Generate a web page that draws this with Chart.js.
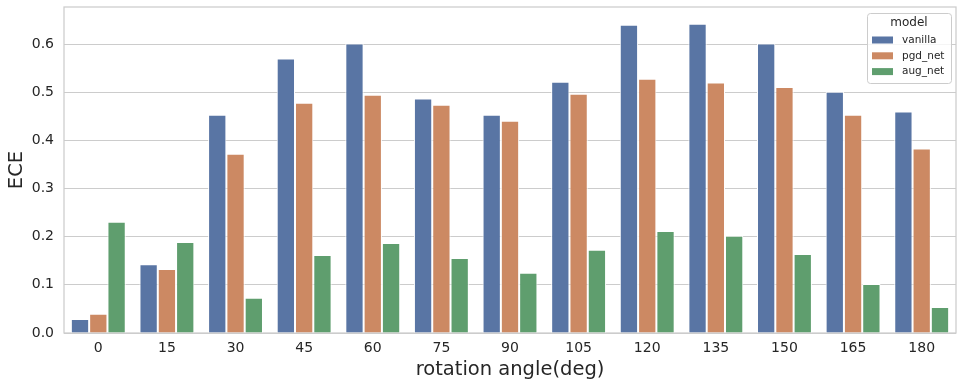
<!DOCTYPE html>
<html>
<head>
<meta charset="utf-8">
<script src="https://cdn.jsdelivr.net/npm/chart.js@4/dist/chart.umd.min.js"></script>
<style>
  html, body { margin: 0; padding: 0; background: #ffffff; }
  #wrap { width: 963px; height: 388px; }
</style>
</head>
<body>
<div id="wrap"><canvas id="c" width="963" height="388"></canvas></div>
<script>
const categories = ['0', '15', '30', '45', '60', '75', '90', '105', '120', '135', '150', '165', '180'];
const seriesNames = ['vanilla', 'pgd_net', 'aug_net'];
const vanilla = [0.029, 0.143, 0.453, 0.570, 0.601, 0.487, 0.453, 0.522, 0.640, 0.642, 0.601, 0.501, 0.460];
const pgdNet  = [0.040, 0.133, 0.372, 0.478, 0.495, 0.474, 0.441, 0.497, 0.528, 0.520, 0.511, 0.453, 0.383];
const augNet  = [0.231, 0.189, 0.073, 0.162, 0.187, 0.156, 0.125, 0.173, 0.212, 0.202, 0.164, 0.102, 0.054];
const yTicks = [0.0, 0.1, 0.2, 0.3, 0.4, 0.5, 0.6];
const colors = ['#5975a4', '#cc8963', '#5f9e6e'];

const FONT = "'DejaVu Sans', sans-serif";
const TEXT = '#262626';
const GRID = '#cccccc';

const framePlugin = {
  id: 'frame',
  beforeDatasetsDraw(chart) {
    const a = chart.chartArea, ctx = chart.ctx;
    ctx.save();
    ctx.strokeStyle = GRID;
    ctx.lineWidth = 1.25;
    ctx.strokeRect(a.left, a.top, a.right - a.left, a.bottom - a.top);
    ctx.restore();
  }
};

const legendPlugin = {
  id: 'seabornLegend',
  afterDraw(chart) {
    const ctx = chart.ctx;
    const x0 = 867, y0 = 13, w = 84, h = 70;
    ctx.save();
    ctx.fillStyle = 'rgba(255,255,255,0.8)';
    ctx.strokeStyle = GRID;
    ctx.lineWidth = 1;
    ctx.beginPath();
    if (ctx.roundRect) ctx.roundRect(x0 + 0.5, y0 + 0.5, w, h, 3); else ctx.rect(x0 + 0.5, y0 + 0.5, w, h);
    ctx.fill();
    ctx.stroke();
    ctx.fillStyle = TEXT;
    ctx.font = '12px ' + FONT;
    ctx.textAlign = 'center';
    ctx.textBaseline = 'middle';
    ctx.fillText('model', x0 + w / 2, y0 + 10);
    ctx.font = '10.5px ' + FONT;
    ctx.textAlign = 'left';
    chart.data.datasets.forEach((ds, i) => {
      const cy = 40 + i * 15.8;
      ctx.fillStyle = ds.backgroundColor;
      ctx.fillRect(872, cy - 3.5, 21, 7);
      ctx.fillStyle = TEXT;
      ctx.fillText(ds.label, 902, cy);
    });
    ctx.restore();
  }
};

new Chart(document.getElementById('c'), {
  type: 'bar',
  data: {
    labels: categories,
    datasets: [
      { label: seriesNames[0], data: vanilla, backgroundColor: colors[0] },
      { label: seriesNames[1], data: pgdNet, backgroundColor: colors[1] },
      { label: seriesNames[2], data: augNet, backgroundColor: colors[2] }
    ].map(d => Object.assign(d, {
      borderColor: '#ffffff', borderWidth: 1, borderSkipped: 'start',
      categoryPercentage: 0.8, barPercentage: 1.0
    }))
  },
  options: {
    responsive: false,
    animation: false,
    devicePixelRatio: 1,
    layout: { padding: { top: 7, right: 7, left: 0, bottom: 0 } },
    plugins: { legend: { display: false }, tooltip: { enabled: false } },
    scales: {
      x: {
        grid: { display: false, drawTicks: false },
        border: { display: false },
        ticks: { color: TEXT, font: { family: FONT, size: 14 }, padding: 7, maxRotation: 0 },
        title: { display: true, text: 'rotation angle(deg)', color: TEXT, font: { family: FONT, size: 19.5 }, padding: { top: 0, bottom: 6 } },
        afterFit(s) { s.height = 55; s.paddingLeft = 0; s.paddingRight = 0; }
      },
      y: {
        min: 0, max: 0.677,
        grid: { color: GRID, lineWidth: 1, drawTicks: false },
        border: { display: false },
        afterBuildTicks(s) { s.ticks = yTicks.map(v => ({ value: v })); },
        ticks: {
          color: TEXT, font: { family: FONT, size: 14 }, padding: 10,
          callback: v => Number(v).toFixed(1)
        },
        title: { display: true, text: 'ECE', color: TEXT, font: { family: FONT, size: 19.5 }, padding: { top: 5, bottom: 0 } },
        afterFit(s) { s.width = 64; s.paddingTop = 0; s.paddingBottom = 0; }
      }
    }
  },
  plugins: [framePlugin, legendPlugin]
});
</script>
</body>
</html>
